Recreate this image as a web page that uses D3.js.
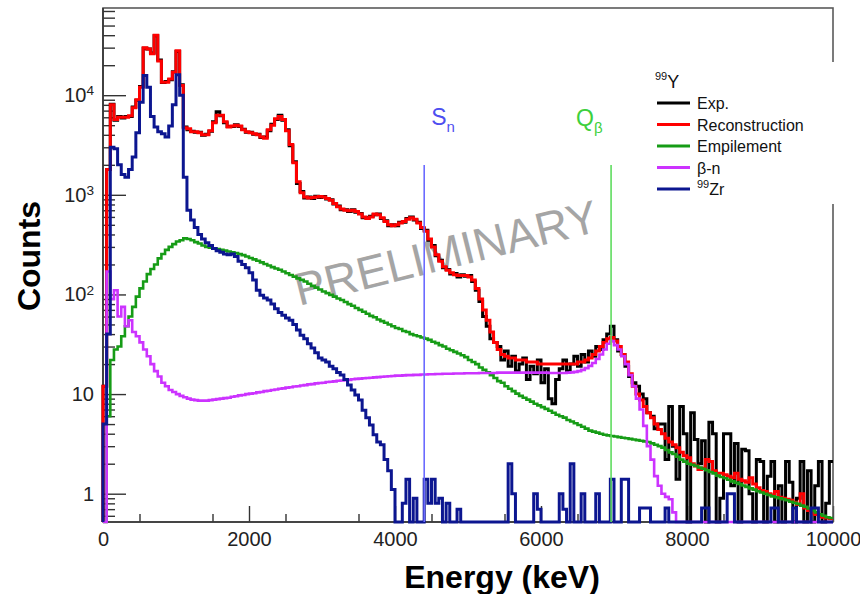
<!DOCTYPE html>
<html>
<head>
<meta charset="utf-8">
<script src="https://cdn.jsdelivr.net/npm/d3@7"></script>
<style>
  body { margin: 0; background: #fff; }
  svg { display: block; }
  text { font-family: "Liberation Sans", Arial, Helvetica, sans-serif; }
</style>
</head>
<body>
<svg id="chart" width="860" height="594"></svg>
<script>
// Energy binning of the spectra (keV)
const binWidth = 50;
const energyMax = 10000;

// Measured spectrum (counts per 50 keV bin, 0 -> 10000 keV)
const expCounts = [
  12, 1800, 8100, 5600, 6100, 5900, 6100, 6100, 7600, 8900, 12200, 29500, 29000, 26500, 39500, 22500, 13400, 13700, 14300, 17200,
  27500, 12700, 4800, 4500, 4350, 4250, 4250, 3950, 4050, 4350, 5400, 6800, 6200, 5300, 4850, 4850, 5050, 4850, 4550, 4250,
  4250, 4050, 4050, 3750, 3800, 4400, 5100, 5700, 6300, 5600, 4500, 3100, 2150, 1300, 1080, 930, 950, 920, 970, 940,
  960, 910, 890, 810, 770, 710, 710, 680, 710, 670, 650, 590, 590, 610, 630, 640, 580, 550, 490, 500,
  490, 530, 530, 580, 600, 560, 530, 460, 440, 350, 310, 245, 220, 185, 178, 160, 162, 150, 158, 152,
  155, 135, 110, 85, 60, 48, 36, 33, 30, 22, 27, 19, 24, 17, 20, 23, 14, 19, 16, 22,
  13, 18, 9, 8, 14, 18, 22, 17, 20, 24, 19, 25, 21, 27, 24, 30, 28, 35, 40, 48,
  35, 27, 25, 19, 15, 13, 12, 10, 9, 6.5, 6, 4.5, 5, 5, 2.2, 7.5, 3, 1.4, 7.5, 4,
  0, 6.5, 3.5, 2, 3.4, 0, 5.2, 4, 0, 0.9, 4, 4, 1.2, 3.2, 0, 2.8, 2.7, 1, 0, 2.2,
  2.1, 0, 1.5, 2.1, 0, 1.2, 0, 2.1, 1.3, 0, 0.9, 2.1, 0, 1.7, 0, 1.2, 2.1, 0, 0.8, 2.1
];

// Reconstructed spectrum
const recoCounts = [
  12, 1800, 8000, 5700, 6000, 6000, 6000, 6200, 7500, 9000, 12000, 30000, 29000, 26000, 40000, 22000, 13500, 13500, 14500, 17000,
  28000, 12500, 4700, 4600, 4300, 4300, 4200, 4000, 4000, 4400, 5300, 6300, 6300, 5400, 4800, 4900, 5000, 4900, 4500, 4300,
  4200, 4100, 4000, 3800, 3700, 4500, 5000, 5800, 6100, 5700, 4400, 3200, 2100, 1350, 1050, 950, 930, 940, 950, 960,
  950, 920, 880, 820, 760, 720, 700, 690, 700, 680, 640, 600, 580, 600, 640, 630, 590, 540, 500, 490,
  500, 520, 540, 570, 590, 570, 520, 470, 430, 360, 300, 250, 215, 190, 175, 165, 158, 155, 155, 155,
  150, 140, 115, 90, 70, 55, 42, 33, 28, 25, 24, 23, 23, 22, 22, 22, 21, 21, 21, 20,
  20, 20, 20, 20, 20, 20, 20, 20, 20, 20, 21, 21, 22, 23, 25, 27, 30, 33, 36, 37,
  34, 30, 25, 21, 16, 12, 10, 8.7, 7.5, 6.5, 5.8, 5.0, 4.4, 4.0, 3.6, 3.3, 3.1, 2.9, 2.6, 2.4,
  2.3, 2.0, 1.9, 1.75, 1.8, 2.2, 2.1, 1.7, 1.6, 1.6, 1.55, 1.5, 1.45, 1.6, 1.4, 1.35, 1.3, 1.45, 1.25, 1.15,
  1.08, 1.05, 1.0, 0.97, 1.05, 0.92, 0.9, 0.88, 0.86, 0.82, 0.78, 1.0, 0.72, 0.68, 0.64, 0.62, 0.59, 0.58, 0.57, 0.56
];

// Pile-up (empilement) component
const pileupCounts = [
  0, 6, 22, 28, 30, 38, 48, 60, 75, 95, 115, 135, 160, 180, 200, 230, 255, 280, 300, 320,
  340, 350, 365, 360, 350, 335, 325, 310, 300, 295, 290, 285, 280, 275, 270, 265, 260, 255, 248, 240,
  232, 225, 218, 210, 202, 195, 188, 182, 177, 170, 163, 157, 151, 145, 140, 135, 128, 122, 117, 112,
  107, 103, 99, 95, 91, 88, 84, 80, 77, 73, 70, 67, 64, 61, 59, 56, 54, 52, 50, 48,
  46, 45, 43, 42, 40, 39, 38, 37, 36, 35, 33.5, 32.5, 31, 30, 28.5, 27.5, 26.5, 25.5, 24.5, 23.5,
  22, 21, 20, 18.5, 17.5, 16.5, 15.5, 14.5, 13.5, 13, 12, 11.3, 10.7, 10.1, 9.6, 9.2, 8.8, 8.4, 8.0, 7.7,
  7.4, 7.1, 6.8, 6.5, 6.2, 6.0, 5.8, 5.5, 5.3, 5.1, 4.9, 4.7, 4.5, 4.3, 4.2, 4.1, 4.0, 3.9, 3.85, 3.8,
  3.75, 3.7, 3.65, 3.6, 3.55, 3.5, 3.45, 3.4, 3.35, 3.3, 3.2, 3.1, 3.0, 2.9, 2.75, 2.6, 2.5, 2.35, 2.2, 2.1,
  2.0, 1.95, 1.9, 1.83, 1.78, 1.72, 1.65, 1.6, 1.52, 1.47, 1.43, 1.38, 1.33, 1.29, 1.25, 1.21, 1.17, 1.13, 1.1, 1.06,
  1.03, 1.0, 0.97, 0.94, 0.92, 0.9, 0.88, 0.86, 0.83, 0.81, 0.79, 0.76, 0.74, 0.71, 0.68, 0.65, 0.62, 0.6, 0.58, 0.57
];

// Beta-delayed neutron component
const betaNCounts = [
  0, 170, 90, 110, 60, 75, 48, 55, 42, 38, 33, 28, 24, 20, 17, 15, 13, 12, 11, 10.5,
  10, 9.6, 9.3, 9.0, 8.8, 8.7, 8.6, 8.6, 8.6, 8.7, 8.8, 8.9, 9.0, 9.1, 9.2, 9.4, 9.5, 9.7, 9.8, 10.0,
  10.1, 10.2, 10.4, 10.5, 10.7, 10.8, 11.0, 11.1, 11.3, 11.4, 11.6, 11.7, 11.9, 12.0, 12.2, 12.3, 12.5, 12.6, 12.8, 12.9,
  13.0, 13.2, 13.3, 13.4, 13.6, 13.7, 13.8, 13.9, 14.1, 14.2, 14.3, 14.4, 14.5, 14.6, 14.7, 14.8, 14.9, 15.0, 15.1, 15.2,
  15.3, 15.3, 15.4, 15.5, 15.5, 15.6, 15.6, 15.7, 15.7, 15.8, 15.8, 15.9, 15.9, 16.0, 16.0, 16.0, 16.1, 16.1, 16.1, 16.2,
  16.2, 16.2, 16.2, 16.3, 16.3, 16.3, 16.3, 16.3, 16.4, 16.4, 16.4, 16.4, 16.4, 16.4, 16.4, 16.4, 16.4, 16.4, 16.4, 16.4,
  16.4, 16.4, 16.3, 16.3, 16.3, 16.3, 16.3, 16.4, 16.5, 16.7, 17.0, 17.5, 18.2, 19.2, 20.5, 22.5, 25, 28, 32, 34,
  31, 28, 24, 20, 15.5, 12, 9, 7, 4.8, 3.0, 2.2, 1.5, 1.2, 1.0, 0.93, 0.88, 0.65, 0, 0, 0,
  0, 0, 0, 0, 0, 0, 0, 0, 0, 0, 0, 0, 0, 0, 0, 0, 0, 0, 0, 0,
  0, 0, 0, 0, 0, 0, 0, 0, 0, 0, 0, 0, 0, 0, 0, 0, 0, 0, 0, 0
];

// 99Zr daughter contribution
const zrCounts = [
  5, 40, 3000, 2900, 2000, 1600, 1500, 1800, 2400, 4200, 8500, 15800, 12000, 6100, 4800, 4300, 4100, 3800, 4900, 8000,
  16000, 10000, 1500, 700, 560, 470, 400, 360, 330, 310, 290, 275, 265, 255, 250, 255, 240, 215, 200, 185,
  165, 140, 110, 98, 92, 88, 80, 72, 66, 62, 58, 55, 50, 44, 39, 36, 32, 29, 26, 23,
  22, 21, 19, 18, 16.5, 15.5, 14, 12.3, 11, 9.8, 8.7, 6.9, 5.8, 4.9, 3.9, 3.3, 3.1, 2.2, 1.7, 1.1,
  0, 0, 0.8, 1.4, 0, 0.9, 0, 0, 1.4, 0.8, 1.4, 0.8, 0.9, 0, 0.8, 0, 0, 0.7, 0, 0,
  0, 0, 0, 0, 0, 0, 0, 0, 0, 0, 0, 2.0, 1.0, 0, 0, 0, 0, 0, 1.0, 0.7,
  0, 0, 0, 0, 0, 1.0, 0.7, 0, 2.0, 0, 0, 1.0, 0, 0, 0, 1.0, 0, 0, 0, 1.4,
  0, 0, 1.4, 1.4, 0, 0, 0, 0.72, 0.72, 0.72, 0, 0, 0, 0, 0.72, 0, 0, 0, 0, 0,
  0, 0, 0, 0, 0.72, 0.72, 0, 0, 0, 0, 0, 1.0, 1.0, 0, 0, 0, 0, 0, 0, 0,
  0, 0, 0, 0.72, 0.72, 0, 0, 0, 0, 0.72, 0, 0, 0, 0, 0.72, 0.72, 0, 0, 0, 0
];

// Axis ticks
const xTickValues = [0, 2000, 4000, 6000, 8000, 10000];
const yTickValues = [1, 10, 100, 1000, 10000];

// Threshold markers (keV)
const snEnergy = 4400;
const qbEnergy = 6960;

// ---------------------------------------------------------------
const svg = d3.select("#chart");
const plot = { left: 103, right: 833, top: 8, bottom: 522 };
const yMin = 0.52, yMax = 75000;

const x = d3.scaleLinear().domain([0, energyMax]).range([plot.left, plot.right]);
const y = d3.scaleLog().domain([yMin, yMax]).range([plot.bottom, plot.top]);

svg.append("defs").append("clipPath").attr("id", "plotClip")
  .append("rect")
  .attr("x", plot.left - 2).attr("y", plot.top)
  .attr("width", plot.right - plot.left + 3).attr("height", plot.bottom - plot.top + 2);

// Watermark
svg.append("text")
  .attr("transform", "translate(299,306) rotate(-14)")
  .attr("font-size", 46)
  .attr("fill", "#a5a5a5")
  .text("PRELIMINARY");

// Axes
const tickColor = "#333";
const yAxisG = svg.append("g").attr("transform", `translate(${plot.left},0)`);
yAxisG.call(d3.axisLeft(y).tickValues(yTickValues).tickSizeInner(-23).tickSizeOuter(0).tickPadding(9).tickFormat(() => ""));
yAxisG.selectAll(".tick text").each(function(d) {
  const t = d3.select(this);
  const e = Math.round(Math.log10(d));
  if (e <= 1) {
    t.text(String(d));
  } else {
    t.append("tspan").text("10");
    t.append("tspan").attr("dy", "-0.5em").attr("font-size", "0.68em").text(String(e));
  }
});
const yMinor = [];
[0.1, 1, 10, 100, 1000, 10000].forEach(dec => {
  for (let k = 2; k <= 9; k++) {
    const v = +(k * dec).toPrecision(3);
    if (v > yMin && v < yMax) yMinor.push(v);
  }
});
const yMinorG = svg.append("g").attr("transform", `translate(${plot.left},0)`);
yMinorG.call(d3.axisLeft(y).tickValues(yMinor).tickSizeInner(-12).tickSizeOuter(0).tickFormat(() => ""));

const xAxisG = svg.append("g").attr("transform", `translate(0,${plot.bottom})`);
xAxisG.call(d3.axisBottom(x).tickValues(xTickValues).tickSizeInner(-16).tickSizeOuter(0).tickPadding(10).tickFormat(d3.format("d")));
const xMinor = d3.range(500, energyMax, 1000);
const xMinorG = svg.append("g").attr("transform", `translate(0,${plot.bottom})`);
xMinorG.call(d3.axisBottom(x).tickValues(xMinor).tickSizeInner(-8).tickSizeOuter(0).tickFormat(() => ""));

[yAxisG, yMinorG, xAxisG, xMinorG].forEach(g => {
  g.select(".domain").remove();
  g.selectAll(".tick line").attr("stroke", tickColor).attr("stroke-width", 1.4);
  g.selectAll(".tick text").attr("font-size", 20).attr("fill", "#222")
    .attr("font-family", '"Liberation Sans", Arial, sans-serif');
});

// Frame
svg.append("rect")
  .attr("x", plot.left).attr("y", plot.top)
  .attr("width", plot.right - plot.left).attr("height", plot.bottom - plot.top)
  .attr("fill", "none").attr("stroke", "#5a5a5a").attr("stroke-width", 1.6);
svg.append("line").attr("x1", plot.left).attr("x2", plot.left)
  .attr("y1", plot.top).attr("y2", plot.bottom).attr("stroke", "#333").attr("stroke-width", 1.6);
svg.append("line").attr("x1", plot.left).attr("x2", plot.right)
  .attr("y1", plot.bottom).attr("y2", plot.bottom).attr("stroke", "#333").attr("stroke-width", 1.6);

// Histogram outlines
function stepPoints(values) {
  const pts = [[0, yMin]];
  values.forEach((v, i) => pts.push([i * binWidth, Math.max(v, yMin)]));
  pts.push([energyMax, Math.max(values[values.length - 1], yMin)]);
  return pts;
}
const stepLine = d3.line()
  .x(d => x(d[0]))
  .y(d => y(d[1]))
  .curve(d3.curveStepAfter);

const series = [
  { name: "Exp.", values: expCounts, color: "#000000", width: 3 },
  { name: "Reconstruction", values: recoCounts, color: "#ff0000", width: 3 },
  { name: "Empilement", values: pileupCounts, color: "#169c16", width: 2.6 },
  { name: "β-n", values: betaNCounts, color: "#cc33ff", width: 2.6 },
  { name: "99Zr", values: zrCounts, color: "#0c1690", width: 3 }
];

const curves = svg.append("g").attr("clip-path", "url(#plotClip)");
series.forEach(s => {
  curves.append("path")
    .datum(stepPoints(s.values))
    .attr("d", stepLine)
    .attr("fill", "none")
    .attr("stroke", s.color)
    .attr("stroke-width", s.width)
    .attr("stroke-linejoin", "miter");
});

// Threshold lines and labels
const markerTop = 165;
svg.append("line")
  .attr("x1", x(snEnergy)).attr("x2", x(snEnergy))
  .attr("y1", markerTop).attr("y2", plot.bottom)
  .attr("stroke", "#6b6bff").attr("stroke-width", 1.6);
svg.append("line")
  .attr("x1", x(qbEnergy)).attr("x2", x(qbEnergy))
  .attr("y1", markerTop).attr("y2", plot.bottom)
  .attr("stroke", "#5fdc5f").attr("stroke-width", 1.6);

const snLabel = svg.append("text").attr("x", x(snEnergy) + 7).attr("y", 125)
  .attr("font-size", 23).attr("fill", "#4e4ef0");
snLabel.append("tspan").text("S");
snLabel.append("tspan").attr("font-size", 15).attr("dy", 7).text("n");

const qbLabel = svg.append("text").attr("x", x(qbEnergy) - 35).attr("y", 126)
  .attr("font-size", 23).attr("fill", "#3dd03d");
qbLabel.append("tspan").text("Q");
qbLabel.append("tspan").attr("font-size", 15).attr("dy", 7).text("β");

// Legend
const legend = svg.append("g");
legend.append("rect").attr("x", 640).attr("y", 62).attr("width", 210).attr("height", 142)
  .attr("fill", "#fff");
const legTitle = legend.append("text").attr("x", 655).attr("y", 88).attr("font-size", 18).attr("fill", "#111");
legTitle.append("tspan").attr("font-size", 11).attr("dy", -8).text("99");
legTitle.append("tspan").attr("dy", 8).text("Y");

const rowY = [103, 124.5, 146, 167.5, 189];
series.forEach((s, i) => {
  legend.append("line")
    .attr("x1", 657).attr("x2", 690)
    .attr("y1", rowY[i]).attr("y2", rowY[i])
    .attr("stroke", s.color).attr("stroke-width", 3);
  const t = legend.append("text").attr("x", 697).attr("y", rowY[i] + 6)
    .attr("font-size", 16).attr("fill", "#111");
  if (s.name === "99Zr") {
    t.append("tspan").attr("font-size", 11).attr("dy", -7).text("99");
    t.append("tspan").attr("dy", 7).text("Zr");
  } else {
    t.text(s.name);
  }
});

// Axis titles
svg.append("text")
  .attr("transform", "translate(40,256) rotate(-90)")
  .attr("text-anchor", "middle")
  .attr("font-size", 32).attr("font-weight", "bold").attr("fill", "#000")
  .text("Counts");
svg.append("text")
  .attr("x", 502).attr("y", 588)
  .attr("text-anchor", "middle")
  .attr("font-size", 32).attr("font-weight", "bold").attr("fill", "#000")
  .text("Energy (keV)");
</script>
</body>
</html>
